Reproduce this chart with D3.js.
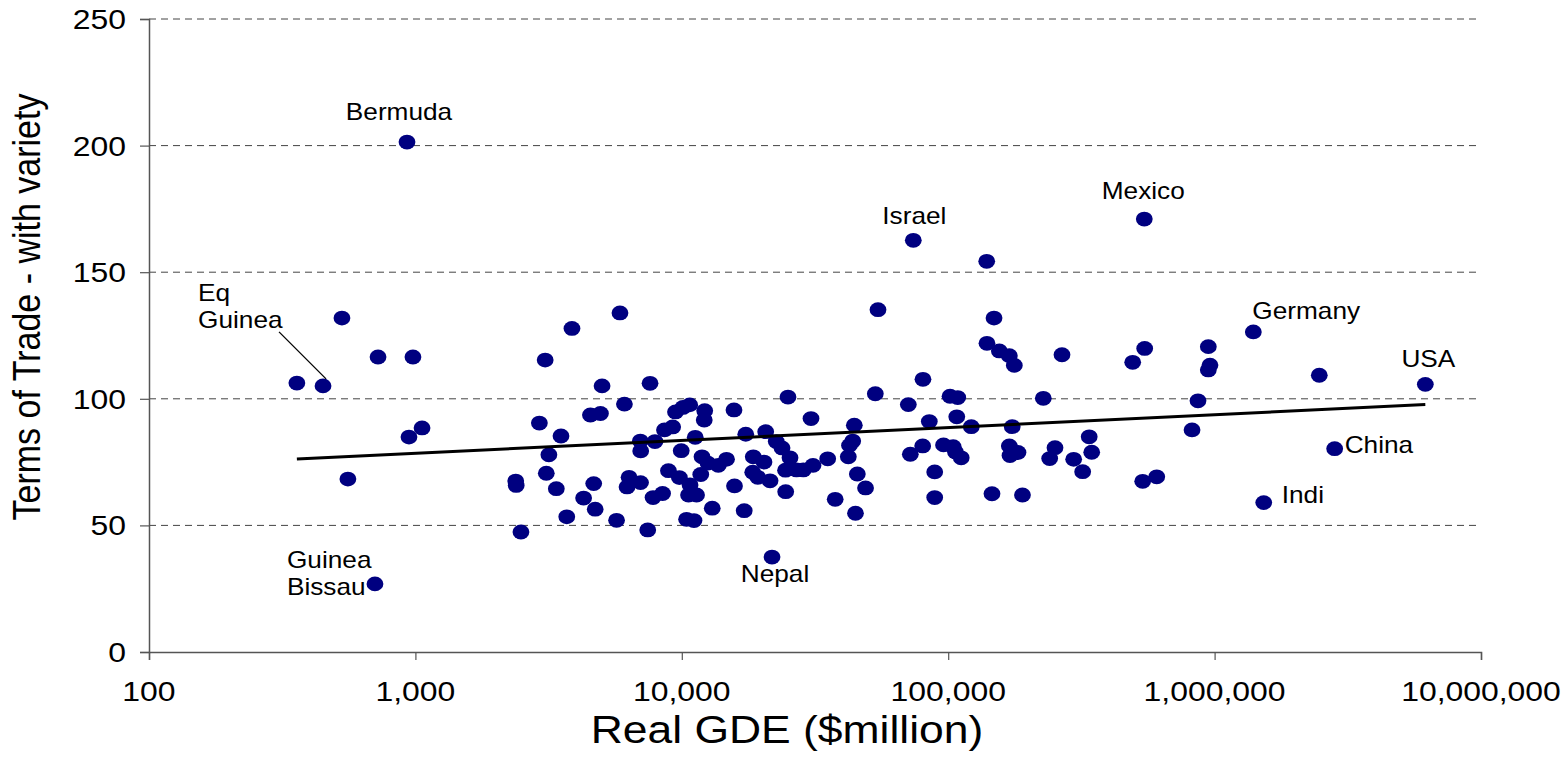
<!DOCTYPE html>
<html>
<head>
<meta charset="utf-8">
<script src="https://cdn.jsdelivr.net/npm/d3@7"></script>
<style>
  html, body { margin: 0; padding: 0; background: #fff; }
  svg { display: block; font-family: "Liberation Sans", Arial, sans-serif; }
</style>
</head>
<body>
<svg id="chart" width="1566" height="759"></svg>
<script>
// labelled countries: real GDE ($million) and terms of trade
const labelNames = ["Bermuda", "Eq Guinea", "Guinea Bissau", "Nepal", "Israel",
                    "Mexico", "Germany", "USA", "China", "Indi"];
const labelGde = [930, 450, 705, 21810, 73960, 544600, 1397500, 6180000, 2823000, 1529000];
const labelTot = [201.4, 105.1, 26.9, 37.5, 162.6, 171.0, 126.4, 105.7, 80.3, 59.0];

// the rest of the countries
const gde = [
  530, 359, 724, 979, 1059, 946, 558,
  5860, 3870, 3070, 5020, 7600, 25040, 6090, 4540, 4950, 2920, 3520, 3170, 3100,
  2380, 2390, 3380, 4670, 4280, 4730, 3700, 2490, 5690, 7450,
  6340, 6230, 7000, 7800, 8470, 6990, 7010, 7930, 8610, 9240,
  9470, 10100, 10710, 12190, 12140, 15700, 11230, 9950, 11910, 12540,
  13710, 14720, 8910, 9790, 10740, 11780, 10600, 11360, 10420, 11110,
  13010, 15770, 17150, 17380, 20650, 22620, 23780, 25480, 18550, 20350,
  18460, 19290, 21440, 24510, 26950, 24550,
  139500, 54510, 148600, 139800, 155600, 169600, 177100, 267400, 80410, 53260,
  70840, 101600, 108600, 227500, 30550, 44420, 84930, 107700, 122100, 173900,
  28580, 31080, 35290, 43810, 42610, 42170, 45590, 48950, 37650, 44870,
  72080, 80210, 96030, 104400, 106500, 111900, 88990, 88990, 146000, 190000,
  169600, 170600, 182800, 251700, 240400, 295800, 338300, 345700, 319700,
  947100, 546500, 492700, 961000, 947100, 2471700, 866300, 822800, 537200, 606400
];
const tot = [
  131.9, 106.2, 116.5, 116.5, 88.5, 84.9, 68.3,
  133.9, 127.8, 115.3, 105.1, 106.1, 100.7, 97.9, 93.6, 94.2, 90.4, 85.3, 77.9, 70.6,
  67.5, 65.8, 64.5, 66.5, 60.8, 56.4, 53.4, 47.4, 52.0, 48.2,
  69.0, 65.2, 66.9, 61.0, 62.6, 83.3, 79.4, 83.1, 87.7, 88.9,
  94.8, 96.6, 97.6, 95.3, 91.6, 95.6, 84.8, 79.5, 77.1, 74.6,
  73.7, 76.1, 71.6, 68.9, 66.0, 70.1, 62.0, 62.0, 52.4, 51.9,
  56.8, 65.6, 55.8, 86.0, 87.0, 83.1, 80.6, 76.7, 77.1, 75.0,
  71.0, 69.0, 67.6, 71.8, 71.9, 63.3,
  154.3, 135.2, 131.9, 121.9, 118.9, 117.0, 113.2, 117.4, 107.7, 102.0,
  97.7, 101.0, 100.5, 100.2, 92.2, 89.6, 91.0, 92.9, 89.0, 89.0,
  71.9, 73.7, 76.3, 83.3, 81.6, 77.1, 70.3, 64.8, 60.3, 54.8,
  78.1, 81.4, 81.8, 81.1, 79.0, 76.7, 71.1, 61.0, 62.5, 62.0,
  81.4, 77.6, 78.8, 80.7, 76.4, 76.1, 85.0, 78.9, 71.2,
  120.6, 119.9, 114.4, 113.3, 111.4, 109.3, 99.2, 87.7, 67.4, 69.2
];

const xTicks = [100, 1000, 10000, 100000, 1000000, 10000000];
const yTicks = [0, 50, 100, 150, 200, 250];

// where each label sits relative to its dot
const labelLayout = {
  "Bermuda":       { dx: -8,  dy: -22, anchor: "middle" },
  "Eq Guinea":     { dx: -125, dy: -85, anchor: "start", lines: ["Eq", "Guinea"], leader: [-44, -54, 3, -7] },
  "Guinea Bissau": { dx: -88, dy: -16, anchor: "start", lines: ["Guinea", "Bissau"] },
  "Nepal":         { dx: 3,   dy: 25,  anchor: "middle" },
  "Israel":        { dx: 1,   dy: -16, anchor: "middle" },
  "Mexico":        { dx: -1,  dy: -20, anchor: "middle" },
  "Germany":       { dx: -1,  dy: -13, anchor: "start" },
  "USA":           { dx: 3,   dy: -17, anchor: "middle" },
  "China":         { dx: 10,  dy: 4,   anchor: "start" },
  "Indi":          { dx: 18,  dy: 0,   anchor: "start" }
};

const STRETCH = 1.14;   // the original picture is a bit wider than tall
const margin = { left: 149, right: 85, top: 19, bottom: 107 };
const width = 1566, height = 759;

const svg = d3.select("#chart");

const x = d3.scaleLog()
  .domain([100, 10000000])
  .range([margin.left, width - margin.right]);

const y = d3.scaleLinear()
  .domain([0, 250])
  .range([height - margin.bottom, margin.top]);

const points = gde.map((g, i) => ({ gde: g, tot: tot[i] }))
  .concat(labelGde.map((g, i) => ({ gde: g, tot: labelTot[i], name: labelNames[i] })));

// stretched text helper
function stretchedText(g, px, py, str, size, anchor) {
  return g.append("text")
    .attr("transform", `translate(${px},${py}) scale(${STRETCH},1)`)
    .attr("text-anchor", anchor)
    .attr("font-size", size)
    .attr("fill", "#000")
    .text(str);
}

// gridlines
svg.append("g")
  .selectAll("line")
  .data(yTicks.filter(d => d > 0))
  .join("line")
  .attr("x1", x(100))
  .attr("x2", x(10000000))
  .attr("y1", d => y(d))
  .attr("y2", d => y(d))
  .attr("stroke", "#444")
  .attr("stroke-width", 1)
  .attr("stroke-dasharray", "7,5");

// axes
const xAxis = svg.append("g")
  .attr("transform", `translate(0,${y(0)})`)
  .call(d3.axisBottom(x).tickValues(xTicks).tickSize(8).tickFormat(""));
const yAxis = svg.append("g")
  .attr("transform", `translate(${x(100)},0)`)
  .call(d3.axisLeft(y).tickValues(yTicks).tickSize(9).tickFormat(""));
[xAxis, yAxis].forEach(a => {
  a.select(".domain").attr("stroke", "#555").attr("stroke-width", 1.5);
  a.selectAll(".tick line").attr("stroke", "#555").attr("stroke-width", 1.2);
});

const tickLabels = svg.append("g");
xTicks.forEach(t => stretchedText(tickLabels, x(t), y(0) + 49, d3.format(",")(t), 28, "middle"));
yTicks.forEach(t => stretchedText(tickLabels, x(100) - 23, y(t) + 10, String(t), 28, "end"));

// axis titles
stretchedText(svg, 787, 743, "Real GDE ($million)", 39, "middle");
svg.append("text")
  .attr("transform", `translate(40,307) rotate(-90) scale(1,${STRETCH})`)
  .attr("text-anchor", "middle")
  .attr("font-size", 34)
  .text("Terms of Trade - with variety");

// logarithmic trendline (least squares on log10 of GDE)
const lx = points.map(p => Math.log10(p.gde));
const ly = points.map(p => p.tot);
const mx = d3.mean(lx), my = d3.mean(ly);
const slope = d3.sum(lx, (v, i) => (v - mx) * (ly[i] - my)) / d3.sum(lx, v => (v - mx) * (v - mx));
const intercept = my - slope * mx;
const [gMin, gMax] = d3.extent(points, p => p.gde);
const trend = [gMin, gMax].map(g => ({ gde: g, tot: intercept + slope * Math.log10(g) }));

// dots
svg.append("g")
  .selectAll("ellipse")
  .data(points)
  .join("ellipse")
  .attr("cx", d => x(d.gde))
  .attr("cy", d => y(d.tot))
  .attr("rx", 8.4)
  .attr("ry", 7.4)
  .attr("fill", "#000080");

svg.append("path")
  .datum(trend)
  .attr("fill", "none")
  .attr("stroke", "#000")
  .attr("stroke-width", 3)
  .attr("d", d3.line().x(d => x(d.gde)).y(d => y(d.tot)));

// country labels
const labelG = svg.append("g");
points.filter(p => p.name).forEach(p => {
  const l = labelLayout[p.name];
  const px = x(p.gde), py = y(p.tot);
  const lines = l.lines || [p.name];
  lines.forEach((s, k) => stretchedText(labelG, px + l.dx, py + l.dy + k * 27, s, 23, l.anchor));
  if (l.leader) {
    labelG.append("line")
      .attr("x1", px + l.leader[0]).attr("y1", py + l.leader[1])
      .attr("x2", px + l.leader[2]).attr("y2", py + l.leader[3])
      .attr("stroke", "#000")
      .attr("stroke-width", 1.3);
  }
});
</script>
</body>
</html>
